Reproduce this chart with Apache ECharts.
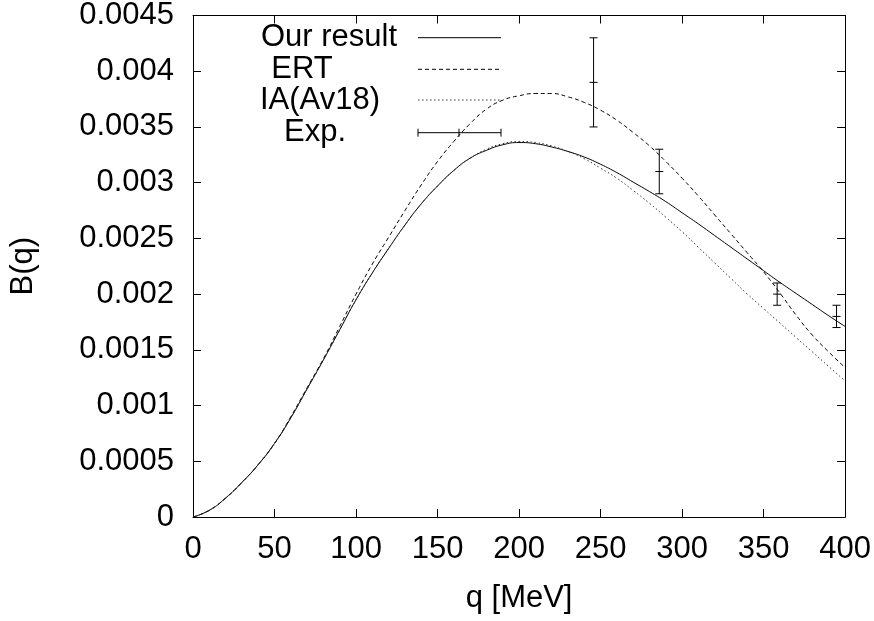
<!DOCTYPE html>
<html>
<head>
<meta charset="utf-8">
<script src="https://cdn.jsdelivr.net/npm/echarts@6/dist/echarts.min.js"></script>
<style>
html,body{margin:0;padding:0;background:#fff;}
#chart{width:874px;height:621px;}
</style>
</head>
<body>
<div id="chart"></div>
<script>
const qValues = [0,10,20,30,40,50,60,70,80,90,100,110,120,130,140,150,160,170,180,190,200,210,220,230,240,250,260,270,280,290,300,310,320,330,340,350,360,370,380,390,400];
const ourResult = [0,0.00006,0.00017,0.00031,0.00047,0.00066,0.00089,0.00115,0.00141,0.00168,0.00195,0.00219,0.00241,0.00262,0.00281,0.00297,0.00311,0.00322,0.00329,0.00334,0.00336,0.00335,0.00332,0.00328,0.00323,0.003165,0.00309,0.003005,0.00292,0.00283,0.00273,0.00263,0.002525,0.00242,0.002315,0.00221,0.002105,0.002005,0.001905,0.001805,0.00171];
const ert = [0,0.00006,0.00017,0.00031,0.00047,0.00066,0.0009,0.00116,0.00142,0.00171,0.002,0.00227,0.00251,0.00275,0.00298,0.00319,0.00337,0.00353,0.00366,0.00374,0.00378,0.0038,0.0038,0.00377,0.00372,0.00365,0.00356,0.00345,0.00333,0.00319,0.00304,0.00288,0.00271,0.00254,0.00237,0.0022,0.00201,0.00181,0.00163,0.00148,0.00134];
const iaAv18 = [0,0.00006,0.00017,0.00031,0.00047,0.00066,0.00089,0.00115,0.00141,0.00168,0.00195,0.00219,0.00241,0.00262,0.00281,0.00297,0.00311,0.00322,0.0033,0.00335,0.00337,0.00336,0.00333,0.00328,0.003215,0.00313,0.00304,0.00293,0.002815,0.00269,0.00256,0.00242,0.00228,0.00214,0.002,0.00187,0.00174,0.00161,0.00148,0.00135,0.00122];
const expQ = [245.7, 286, 358.3, 394.7];
const expB = [0.0039, 0.0031, 0.0020, 0.0018];
const expLow = [0.0035, 0.0029, 0.0019, 0.0017];
const expHigh = [0.0043, 0.0033, 0.0021, 0.0019];
const xTicks = [0,50,100,150,200,250,300,350,400];
const yTicks = ['0','0.0005','0.001','0.0015','0.002','0.0025','0.003','0.0035','0.004','0.0045'];
const legendNames = ['Our result','ERT','IA(Av18)','Exp.'];

const FONT = 'Liberation Sans, Arial, Helvetica, sans-serif';
const FS = 31;

const pair = arr => qValues.map((q,i)=>[q, arr[i]]);
const expData = expQ.map((q,i)=>[q, expB[i], expLow[i], expHigh[i]]);

const chart = echarts.init(document.getElementById('chart'), null, {renderer:'canvas'});

const axisCommon = {
  axisLine:{show:true, onZero:false, lineStyle:{color:'#000', width:1}},
  axisTick:{show:true, inside:true, length:8, lineStyle:{color:'#000', width:1}},
  splitLine:{show:false}
};

const legendY = [37.7, 69.3, 100, 132.7];
const legendX = [329, 302, 320, 315];
const sx0 = 418, sx1 = 501;
const graphics = [];
legendNames.forEach((n,i)=>{
  graphics.push({type:'text', x:legendX[i], y:legendY[i], silent:true,
    style:{text:n, x:0, y:0, font: FS+'px '+FONT, fill:'#000', align:'center', verticalAlign:'middle'}});
});
graphics.push({type:'line', shape:{x1:sx0,y1:legendY[0],x2:sx1,y2:legendY[0]}, style:{stroke:'#000', lineWidth:1}});
graphics.push({type:'line', shape:{x1:sx0,y1:legendY[1],x2:sx1,y2:legendY[1]}, style:{stroke:'#000', lineWidth:1, lineDash:[4,3]}});
graphics.push({type:'line', shape:{x1:sx0,y1:legendY[2],x2:sx1,y2:legendY[2]}, style:{stroke:'#333', lineWidth:1, lineDash:[1.5,2.5]}});
graphics.push({type:'line', shape:{x1:sx0,y1:legendY[3],x2:sx1,y2:legendY[3]}, style:{stroke:'#000', lineWidth:1}});
graphics.push({type:'line', shape:{x1:sx0,y1:legendY[3]-4,x2:sx0,y2:legendY[3]+4}, style:{stroke:'#000', lineWidth:1}});
graphics.push({type:'line', shape:{x1:sx1,y1:legendY[3]-4,x2:sx1,y2:legendY[3]+4}, style:{stroke:'#000', lineWidth:1}});
graphics.push({type:'line', shape:{x1:459,y1:legendY[3]-4,x2:459,y2:legendY[3]+4}, style:{stroke:'#000', lineWidth:1}});

const option = {
  backgroundColor:'#fff',
  animation:false,
  grid:{left:191, top:14, width:655, height:503, containLabel:false},
  xAxis:[
    Object.assign({}, axisCommon, {
      type:'value', min:0, max:400, interval:50, position:'bottom',
      name:'q [MeV]', nameLocation:'middle', nameGap:66,
      nameTextStyle:{fontFamily:FONT, fontSize:FS, color:'#000'},
      axisLabel:{show:true, margin:17, fontFamily:FONT, fontSize:FS, color:'#000',
        formatter:(v)=>{ const i = xTicks.indexOf(v); return i>=0 ? String(xTicks[i]) : ''; }}
    }),
    Object.assign({}, axisCommon, {
      type:'value', min:0, max:400, interval:50, position:'top', axisLabel:{show:false}
    })
  ],
  yAxis:[
    Object.assign({}, axisCommon, {
      type:'value', min:0, max:0.0045, interval:0.0005, position:'left',
      name:'B(q)', nameLocation:'middle', nameGap:154, nameRotate:90,
      nameTextStyle:{fontFamily:FONT, fontSize:FS, color:'#000'},
      axisLabel:{show:true, margin:19, fontFamily:FONT, fontSize:FS, color:'#000',
        formatter:(v)=>{ const i = Math.round(v/0.0005); return yTicks[i] !== undefined ? yTicks[i] : ''; }}
    }),
    Object.assign({}, axisCommon, {
      type:'value', min:0, max:0.0045, interval:0.0005, position:'right', axisLabel:{show:false}
    })
  ],
  graphic: graphics,
  series:[
    {name:legendNames[0], type:'line', data:pair(ourResult), showSymbol:false, smooth:0.5, clip:true,
      lineStyle:{color:'#000', width:1}},
    {name:legendNames[1], type:'line', data:pair(ert), showSymbol:false, smooth:0.5, clip:true,
      lineStyle:{color:'#000', width:1, type:[4,3]}},
    {name:legendNames[2], type:'line', data:pair(iaAv18), showSymbol:false, smooth:0.5, clip:true,
      lineStyle:{color:'#333', width:1, type:[1.5,2.5]}},
    {name:legendNames[3], type:'custom', data:expData, encode:{x:0, y:[1,2,3]},
      renderItem:(params, api)=>{
        const x = api.value(0);
        const pc = api.coord([x, api.value(1)]);
        const pl = api.coord([x, api.value(2)]);
        const ph = api.coord([x, api.value(3)]);
        const w = 4;
        const st = {stroke:'#000', lineWidth:1};
        return {type:'group', children:[
          {type:'line', shape:{x1:pl[0],y1:pl[1],x2:ph[0],y2:ph[1]}, style:st},
          {type:'line', shape:{x1:pl[0]-w,y1:pl[1],x2:pl[0]+w,y2:pl[1]}, style:st},
          {type:'line', shape:{x1:ph[0]-w,y1:ph[1],x2:ph[0]+w,y2:ph[1]}, style:st},
          {type:'line', shape:{x1:pc[0]-w,y1:pc[1],x2:pc[0]+w,y2:pc[1]}, style:st}
        ]};
      }}
  ]
};
chart.setOption(option);
</script>
</body>
</html>
